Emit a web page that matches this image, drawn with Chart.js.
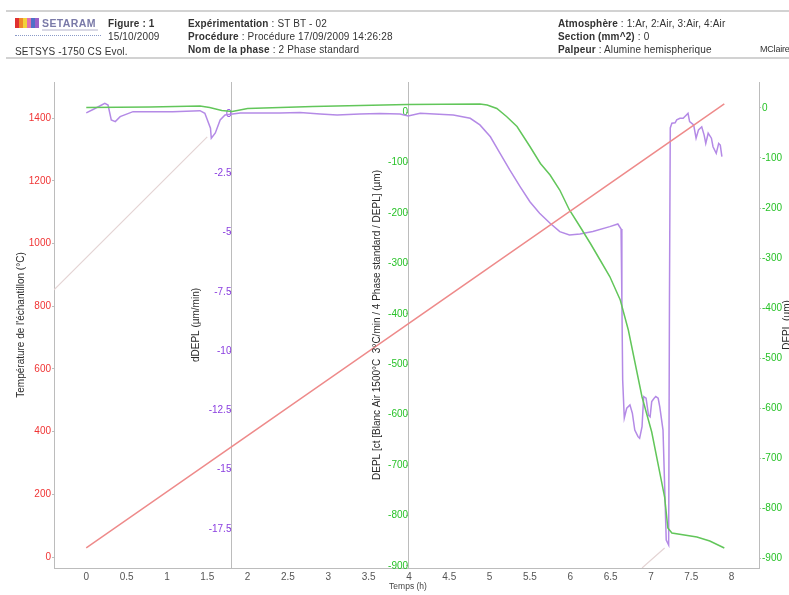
<!DOCTYPE html>
<html>
<head>
<meta charset="utf-8">
<script src="https://cdn.jsdelivr.net/npm/chart.js@4.4.0/dist/chart.umd.min.js"></script>
<style>
    body { margin: 0; background: #fff; font-family: "Liberation Sans", Arial, sans-serif; }
    #wrap { position: relative; width: 789px; height: 595px; overflow: hidden; }
    #chart { position: absolute; left: 0; top: 0; }
    .line { position: absolute; left: 6px; right: 0; height: 2px; background: #d2d2d2; }
    .h { position: absolute; font-size: 10px; line-height: 11px; letter-spacing: 0.15px; color: #333; white-space: nowrap; }
    .h b { font-weight: bold; }
    #logo { position: absolute; left: 15px; top: 17px; width: 86px; height: 22px; }
    #logo span.bar { position: absolute; top: 1px; width: 4px; height: 10px; }
    #logo .txt { position: absolute; left: 27px; top: 0; font-size: 10.5px; font-weight: bold; color: #7a7aa8; letter-spacing: 0.4px; }
    #logo .sub { position: absolute; left: 27px; top: 12px; width: 56px; height: 2px; background: #d8d8e4; }
    #logo .dots { position: absolute; left: 0; top: 18px; width: 86px; height: 1px; border-top: 1px dotted #8a9ac8; }
</style>
</head>
<body>
<div id="wrap">
    <canvas id="chart" width="789" height="595"></canvas>

    <div class="line" style="top:10px"></div>
    <div class="line" style="top:57px"></div>
    <div id="logo">
        <span class="bar" style="left:0;background:#e03030"></span>
        <span class="bar" style="left:4px;background:#f08a2a"></span>
        <span class="bar" style="left:8px;background:#f2d23a"></span>
        <span class="bar" style="left:12px;background:#e070b0"></span>
        <span class="bar" style="left:16px;background:#5070c8"></span>
        <span class="bar" style="left:20px;background:#9a60c8"></span>
        <span class="txt">SETARAM</span>
        <span class="sub"></span>
        <span class="dots"></span>
    </div>
    <div class="h" style="left:108px;top:18px"><b>Figure : 1</b></div>
    <div class="h" style="left:108px;top:31px">15/10/2009</div>
    <div class="h" style="left:15px;top:46px">SETSYS -1750 CS Evol.</div>
    <div class="h" style="left:188px;top:18px"><b>Expérimentation</b> : ST BT - 02</div>
    <div class="h" style="left:188px;top:31px"><b>Procédure</b> : Procédure 17/09/2009 14:26:28</div>
    <div class="h" style="left:188px;top:44px"><b>Nom de la phase</b> : 2 Phase standard</div>
    <div class="h" style="left:558px;top:18px"><b>Atmosphère</b> : 1:Ar, 2:Air, 3:Air, 4:Air</div>
    <div class="h" style="left:558px;top:31px"><b>Section (mm^2)</b> : 0</div>
    <div class="h" style="left:558px;top:44px"><b>Palpeur</b> : Alumine hemispherique</div>
    <div class="h" style="left:760px;top:44px;font-size:9px;letter-spacing:-0.2px">MClaire</div>
</div>
<script>
// tick labels
const xTicks = [0, 0.5, 1, 1.5, 2, 2.5, 3, 3.5, 4, 4.5, 5, 5.5, 6, 6.5, 7, 7.5, 8];
const tempTicks = [0, 200, 400, 600, 800, 1000, 1200, 1400];
const rateTicks = [0, -2.5, -5, -7.5, -10, -12.5, -15, -17.5];
const deplTicks = [0, -100, -200, -300, -400, -500, -600, -700, -800, -900];

// temperature ramp (°C)
const tempTime = [0, 7.91];
const tempValues = [29, 1445];

// faint temperature segments from the other phases (°C)
const auxTime = [-0.4, 1.50, 1.55, 6.89, 7.17];
const auxValues = [852, 1340, null, -35, 29];

// dDEPL (µm/min)
const rateTime = [0, 0.09, 0.23, 0.27, 0.31, 0.36, 0.42, 0.58, 1.07, 1.41, 1.47, 1.54, 1.55, 1.60, 1.66, 1.72,
    1.91, 2.40, 2.65, 2.90, 3.11, 3.39, 3.64, 3.89, 3.99, 4.14, 4.55, 4.76, 4.88, 5.01, 5.13, 5.25, 5.38, 5.50,
    5.62, 5.75, 5.87, 5.99, 6.12, 6.28, 6.49, 6.59, 6.63, 6.64, 6.65, 6.67, 6.70, 6.74, 6.77, 6.80, 6.84, 6.86,
    6.89, 6.91, 6.94, 6.97, 6.99, 7.01, 7.04, 7.06, 7.09, 7.11, 7.15, 7.19, 7.22, 7.23, 7.24, 7.26, 7.30, 7.32,
    7.36, 7.40, 7.44, 7.46, 7.48, 7.53, 7.56, 7.59, 7.63, 7.66, 7.68, 7.71, 7.75, 7.77, 7.81, 7.84, 7.86, 7.88];
const rateValues = [0.05, 0.20, 0.45, 0.38, -0.25, -0.32, -0.11, 0.10, 0.10, 0.14, 0.03, -0.60, -1.02, -0.80, -0.25, -0.04,
    0.04, 0.04, 0.06, 0, -0.04, 0, 0.02, 0, -0.08, 0.03, -0.04, -0.18, -0.46, -0.96, -1.66, -2.36, -3.07, -3.70,
    -4.19, -4.61, -4.96, -5.10, -5.06, -4.96, -4.75, -4.64, -4.85, -7.84, -11.22, -12.82, -12.41, -12.27, -12.62, -13.33, -13.61, -13.68,
    -13.19, -11.92, -11.99, -12.70, -12.77, -12.13, -11.99, -11.92, -11.99, -12.35, -13.33, -17.97, -18.18, -7.84, -0.59, -0.39, -0.37, -0.25,
    -0.18, -0.18, -0.04, 0.03, -0.32, -0.46, -1.02, -0.67, -0.54, -0.89, -1.24, -0.81, -1.02, -1.38, -1.66, -1.24, -1.31, -1.80];

// DEPL (µm)
const deplTime = [0, 0.79, 1.41, 1.53, 1.68, 1.81, 2.00, 2.81, 3.98, 4.88, 4.97, 5.09, 5.21, 5.34, 5.50, 5.63, 5.75,
    5.87, 5.99, 6.12, 6.25, 6.37, 6.49, 6.62, 6.72, 6.89, 7.01, 7.17, 7.21, 7.26, 7.57, 7.73, 7.91];
const deplValues = [1, 2, 4, 1, -5, -7, -1, 3, 7, 8, 6, -1, -17, -37, -77, -111, -134,
    -164, -204, -237, -271, -304, -337, -384, -444, -578, -648, -778, -840, -850, -858, -866, -880];

const FONT = "'Liberation Sans', Arial, sans-serif";
Chart.defaults.font.family = FONT;
Chart.defaults.font.size = 10;

function pts(xs, ys) {
    return xs.map((x, i) => ({ x: x, y: ys[i] }));
}

function fixedTicks(list) {
    return scale => { scale.ticks = list.map(v => ({ value: v })); };
}

const axisColor = '#bcbcbc';

// axis titles drawn by hand so the middle axes get them too
const axisTitles = {
    id: 'axisTitles',
    afterDraw(chart) {
        const ctx = chart.ctx;
        const titles = [
            { text: "Température de l'échantillon (°C)", x: 21, y: 325 },
            { text: 'dDEPL (µm/min)', x: 196, y: 325 },
            { text: 'DEPL [ct [Blanc Air 1500°C  3°C/min / 4 Phase standard / DEPL] (µm)', x: 377, y: 325 },
            { text: 'DEPL (µm)', x: 787, y: 325 }
        ];
        ctx.save();
        ctx.fillStyle = '#2a2a2a';
        ctx.font = '10px ' + FONT;
        ctx.textAlign = 'center';
        ctx.textBaseline = 'middle';
        titles.forEach(t => {
            ctx.save();
            ctx.translate(t.x, t.y);
            ctx.rotate(-Math.PI / 2);
            ctx.fillText(t.text, 0, 0);
            ctx.restore();
        });
        ctx.font = '8.5px ' + FONT;
        ctx.fillStyle = '#444';
        ctx.fillText('Temps (h)', 408, 587);
        ctx.restore();
    }
};

new Chart(document.getElementById('chart'), {
    type: 'line',
    data: {
        datasets: [
            {
                data: pts(auxTime, auxValues),
                yAxisID: 'yTemp',
                borderColor: '#e4d4d4',
                borderWidth: 1.2,
                spanGaps: false
            },
            {
                data: pts(tempTime, tempValues),
                yAxisID: 'yTemp',
                borderColor: '#ee8a8a',
                borderWidth: 1.5
            },
            {
                data: pts(deplTime, deplValues),
                yAxisID: 'yRight',
                borderColor: '#62c65a',
                borderWidth: 1.5
            },
            {
                data: pts(rateTime, rateValues),
                yAxisID: 'yRate',
                borderColor: '#b48ae6',
                borderWidth: 1.5
            }
        ]
    },
    options: {
        responsive: false,
        animation: false,
        elements: { point: { radius: 0 }, line: { tension: 0 } },
        layout: { padding: { top: 82, left: 0, right: 0, bottom: 0 } },
        plugins: { legend: { display: false }, tooltip: { enabled: false } },
        scales: {
            x: {
                type: 'linear',
                position: 'bottom',
                min: -0.4,
                max: 8.34,
                grid: { display: false, drawTicks: false },
                border: { color: axisColor, width: 1 },
                ticks: { color: '#555', padding: 3, callback: v => String(v) },
                afterBuildTicks: fixedTicks(xTicks),
                afterFit: s => { s.height = 27; }
            },
            yTemp: {
                axis: 'y',
                type: 'linear',
                position: 'left',
                min: -35,
                max: 1515,
                grid: { drawOnChartArea: false, tickLength: 2, color: axisColor },
                border: { color: axisColor, width: 1 },
                ticks: { color: '#f03434', padding: 1, callback: v => String(v) },
                afterBuildTicks: fixedTicks(tempTicks),
                afterFit: s => { s.width = 54; }
            },
            yRate: {
                axis: 'y',
                type: 'linear',
                position: { x: 1.8 },
                min: -19.15,
                max: 1.35,
                grid: { drawOnChartArea: false, tickLength: 2, color: axisColor },
                border: { color: axisColor, width: 1 },
                ticks: { color: '#8a3ee0', padding: 1, callback: v => String(v) },
                afterBuildTicks: fixedTicks(rateTicks)
            },
            yMid: {
                axis: 'y',
                type: 'linear',
                position: { x: 3.99 },
                min: -904,
                max: 59.5,
                grid: { drawOnChartArea: false, tickLength: 2, color: axisColor },
                border: { color: axisColor, width: 1 },
                ticks: { color: '#28c228', padding: 1, callback: v => String(v) },
                afterBuildTicks: fixedTicks(deplTicks)
            },
            yRight: {
                axis: 'y',
                type: 'linear',
                position: 'right',
                min: -920,
                max: 52,
                grid: { drawOnChartArea: false, tickLength: 2, color: axisColor },
                border: { color: axisColor, width: 1 },
                ticks: { color: '#28c228', padding: 1, callback: v => String(v) },
                afterBuildTicks: fixedTicks(deplTicks),
                afterFit: s => { s.width = 30; }
            }
        }
    },
    plugins: [axisTitles]
});
</script>
</body>
</html>
